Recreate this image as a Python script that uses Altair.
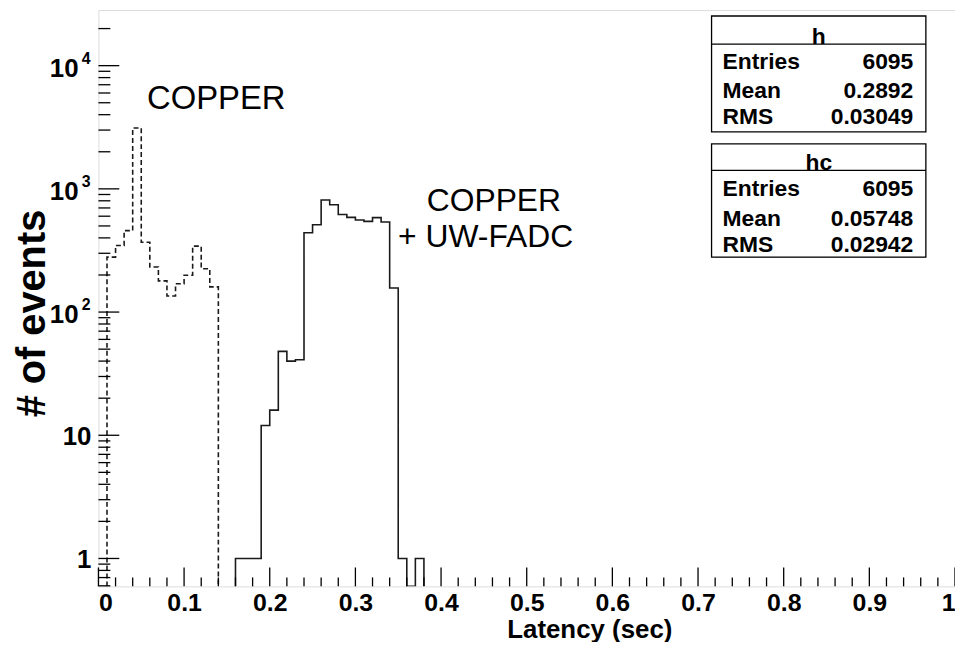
import altair as alt
import pandas as pd

# ---------------- data ----------------
BIN_W = 0.01
h_start = 0.16          # "COPPER + UW-FADC" (solid)
h_counts = [1, 1, 1, 12, 16, 48, 40, 41, 440, 512, 811, 743, 619, 587, 559,
            545, 584, 539, 157, 1, 0, 1]
hc_start = 0.01         # "COPPER" (dashed)
hc_counts = [279, 347, 458, 3120, 369, 232, 179, 135, 170, 199, 343, 225, 160]

x_tick_values = [0, 0.1, 0.2, 0.3, 0.4, 0.5, 0.6, 0.7, 0.8, 0.9, 1]
y_plain_labels = [(1, "1"), (10, "10")]
y_exp_labels = [(100, "2"), (1000, "3"), (10000, "4")]

stat_h = [("Entries", "6095"), ("Mean", "0.2892"), ("RMS", "0.03049")]
stat_hc = [("Entries", "6095"), ("Mean", "0.05748"), ("RMS", "0.02942")]

Y_MIN, Y_MAX = 0.594, 28300
W, H = 862, 580
FONT = "Liberation Sans"


def outline(start, counts, name):
    xs, ys = [start], [Y_MIN]
    hi = start
    for i, c in enumerate(counts):
        lo = round(start + i * BIN_W, 4)
        hi = round(lo + BIN_W, 4)
        v = c if c > 0 else Y_MIN
        xs += [lo, hi]
        ys += [v, v]
    xs.append(hi)
    ys.append(Y_MIN)
    return pd.DataFrame({"x": xs, "y": ys, "order": list(range(len(xs))), "series": name})


xs = alt.Scale(domain=[0, 1], nice=False, zero=False)
ys = alt.Scale(type="log", domain=[Y_MIN, Y_MAX], nice=False)

solid = alt.Chart(outline(h_start, h_counts, "h")).mark_line(
    color="#1a1a1a", strokeWidth=1.6, clip=True
).encode(
    x=alt.X("x:Q", scale=xs, axis=alt.Axis(
        values=x_tick_values, format="~g", ticks=False, domain=False, grid=False,
        labelFont=FONT, labelFontWeight="bold", labelFontSize=25, labelColor="black",
        labelPadding=4, title="Latency (sec)", titleFont=FONT, titleFontWeight="bold",
        titleFontSize=26, titleColor="black", titleX=494, titleY=43,
        titleAlign="center", titleBaseline="middle")),
    y=alt.Y("y:Q", scale=ys, axis=alt.Axis(
        labels=False, ticks=False, domain=False, grid=False,
        title="# of events", titleFont=FONT, titleFontWeight="bold", titleFontSize=40,
        titleColor="black", titleX=-66, titleY=305, titleAlign="center",
        titleBaseline="middle", titleAngle=270)),
    order="order:Q",
)

dashed = alt.Chart(outline(hc_start, hc_counts, "hc")).mark_line(
    color="#1a1a1a", strokeWidth=1.6, strokeDash=[5, 3], clip=True
).encode(x=alt.X("x:Q", scale=xs), y=alt.Y("y:Q", scale=ys), order="order:Q")

# ---------------- ticks (ROOT style, inside the frame) ----------------
x_major = pd.DataFrame({"v": x_tick_values})
x_minor = pd.DataFrame({"v": [round(i * 0.02, 2) for i in range(51) if i % 5 != 0]})
xt_major = alt.Chart(x_major).mark_rule(color="black", strokeWidth=1.3).encode(
    x=alt.X("v:Q", scale=xs), y=alt.value(H), y2=alt.value(H - 19))
xt_minor = alt.Chart(x_minor).mark_rule(color="black", strokeWidth=1.3).encode(
    x=alt.X("v:Q", scale=xs), y=alt.value(H), y2=alt.value(H - 9))

y_major = pd.DataFrame({"v": [1, 10, 100, 1000, 10000]})
y_minor = pd.DataFrame({"v": [m * d for d in [0.1, 1, 10, 100, 1000, 10000]
                              for m in range(2, 10)
                              if Y_MIN <= m * d <= Y_MAX]})
yt_major = alt.Chart(y_major).mark_rule(color="black", strokeWidth=1.3).encode(
    y=alt.Y("v:Q", scale=ys), x=alt.value(0), x2=alt.value(21))
yt_minor = alt.Chart(y_minor).mark_rule(color="black", strokeWidth=1.3).encode(
    y=alt.Y("v:Q", scale=ys), x=alt.value(0), x2=alt.value(12))

# ---------------- y labels ----------------
yl_plain = alt.Chart(pd.DataFrame({"v": [a for a, _ in y_plain_labels],
                                   "t": [b for _, b in y_plain_labels]})).mark_text(
    align="right", baseline="middle", dx=-7, dy=2, font=FONT, fontWeight="bold",
    fontSize=26, color="black").encode(
    x=alt.datum(0, scale=xs), y=alt.Y("v:Q", scale=ys), text="t:N")
yl_base = alt.Chart(pd.DataFrame({"v": [a for a, _ in y_exp_labels]})).mark_text(
    align="right", baseline="middle", dx=-20, dy=3, font=FONT, fontWeight="bold",
    fontSize=26, color="black").encode(
    x=alt.datum(0, scale=xs), y=alt.Y("v:Q", scale=ys), text=alt.value("10"))
yl_exp = alt.Chart(pd.DataFrame({"v": [a for a, _ in y_exp_labels],
                                 "t": [b for _, b in y_exp_labels]})).mark_text(
    align="right", baseline="middle", dx=-8, dy=-7, font=FONT, fontWeight="bold",
    fontSize=16, color="black").encode(
    x=alt.datum(0, scale=xs), y=alt.Y("v:Q", scale=ys), text="t:N")

# ---------------- annotations ----------------
ann = pd.DataFrame({
    "x": [0.0568, 0.4617, 0.452],
    "y": [5320, 800, 410],
    "t": ["COPPER", "COPPER", "+ UW-FADC"],
})
ann_left = alt.Chart(ann.iloc[[0]]).mark_text(
    align="left", baseline="middle", font=FONT, fontSize=33, color="black").encode(
    x=alt.X("x:Q", scale=xs), y=alt.Y("y:Q", scale=ys), text="t:N")
ann_center = alt.Chart(ann.iloc[[1, 2]]).mark_text(
    align="center", baseline="middle", font=FONT, fontSize=32, color="black").encode(
    x=alt.X("x:Q", scale=xs), y=alt.Y("y:Q", scale=ys), text="t:N")

# ---------------- stats boxes ----------------
boxes = pd.DataFrame({
    "x": [0.7158, 0.7158], "x2": [0.966, 0.966],
    "y": [25300, 2318], "y2": [2898, 279], "line": [14970, 1415],
    "title": ["h", "hc"], "ty": [17140, 1630],
})
shadow = alt.Chart(boxes).mark_rect(color="black", xOffset=3, yOffset=3).encode(
    x=alt.X("x:Q", scale=xs), x2="x2:Q", y=alt.Y("y:Q", scale=ys), y2="y2:Q")
box = alt.Chart(boxes).mark_rect(fill="white", stroke="black", strokeWidth=1.3).encode(
    x=alt.X("x:Q", scale=xs), x2="x2:Q", y=alt.Y("y:Q", scale=ys), y2="y2:Q")
hline = alt.Chart(boxes).mark_rule(color="black", strokeWidth=1.3).encode(
    x=alt.X("x:Q", scale=xs), x2="x2:Q", y=alt.Y("line:Q", scale=ys))
btitle = alt.Chart(boxes).mark_text(
    align="center", baseline="middle", font=FONT, fontWeight="bold", fontSize=23,
    color="black").encode(
    x=alt.datum(0.841, scale=xs), y=alt.Y("ty:Q", scale=ys), text="title:N")

rows = pd.DataFrame({
    "k": [k for k, _ in stat_h] + [k for k, _ in stat_hc],
    "val": [v for _, v in stat_h] + [v for _, v in stat_hc],
    "y": [10770, 6280, 3808, 1000, 573, 347],
})
row_k = alt.Chart(rows).mark_text(
    align="left", baseline="middle", font=FONT, fontWeight="bold", fontSize=23,
    color="black").encode(x=alt.datum(0.7285, scale=xs), y=alt.Y("y:Q", scale=ys), text="k:N")
row_v = alt.Chart(rows).mark_text(
    align="right", baseline="middle", font=FONT, fontWeight="bold", fontSize=23,
    color="black").encode(x=alt.datum(0.9513, scale=xs), y=alt.Y("y:Q", scale=ys), text="val:N")

chart = alt.layer(
    solid, dashed, xt_major, xt_minor, yt_major, yt_minor,
    yl_plain, yl_base, yl_exp, ann_left, ann_center,
    shadow, box, hline, btitle, row_k, row_v,
).properties(
    width=W, height=H,
    autosize=alt.AutoSizeParams(type="none"),
    padding={"left": 91, "top": 0, "right": 0, "bottom": 54},
).configure_view(
    stroke="black", strokeWidth=1.5
).configure(background="white")

chart.save("out.html", embed_options={"renderer": "svg", "actions": False})
